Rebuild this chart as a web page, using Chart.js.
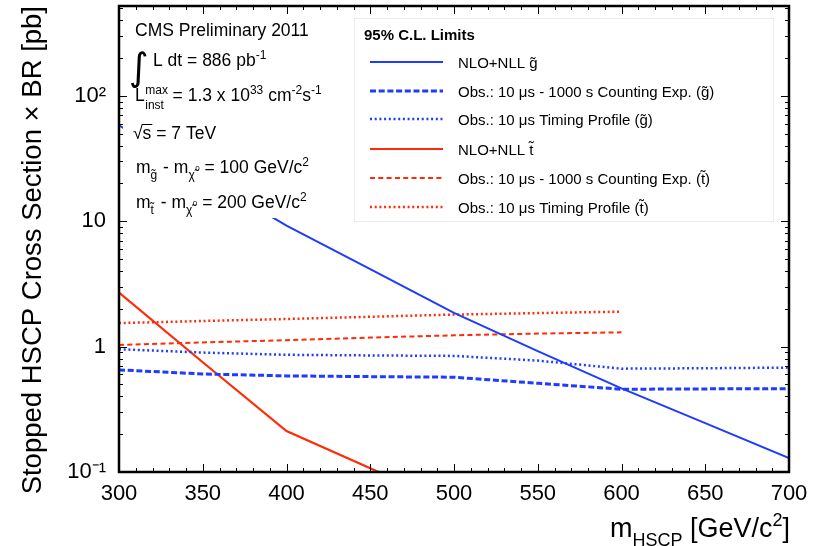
<!DOCTYPE html>
<html>
<head>
<meta charset="utf-8">
<script src="https://cdn.jsdelivr.net/npm/chart.js@4.4.1/dist/chart.umd.min.js"></script>
<style>
  html, body { margin: 0; padding: 0; background: #fff; }
  #wrap { width: 820px; height: 546px; }
</style>
</head>
<body>
<div id="wrap"><canvas id="chart" width="820" height="546"></canvas></div>
<script>
'use strict';

// masses [GeV/c^2]
const gluinoMass = [300, 350, 400, 450, 500, 550, 600, 650, 700];
const stopMass = [300, 350, 400, 450, 500, 550, 600];

// cross section x BR [pb]
const gluinoTheory = [58, 22.9, 9.2, 4.15, 1.86, 0.92, 0.465, 0.245, 0.129];
const gluinoCounting = [0.652, 0.605, 0.584, 0.576, 0.570, 0.51, 0.457, 0.46, 0.462];
const gluinoTiming = [0.953, 0.896, 0.86, 0.85, 0.843, 0.773, 0.667, 0.672, 0.68];
const stopTheory = [2.7, 0.75, 0.212, 0.107, 0.054];
const stopCounting = [1.03, 1.08, 1.125, 1.18, 1.23, 1.27, 1.30];
const stopTiming = [1.54, 1.60, 1.66, 1.73, 1.80, 1.85, 1.90];

const xTickValues = [300, 350, 400, 450, 500, 550, 600, 650, 700];
const yTickValues = [0.1, 1, 10, 100];
const yTickLabels = ['10\u207B\u00B9', '1', '10', '10\u00B2'];

const legendLabels = [
    'NLO+NLL g\u0303',
    'Obs.: 10 \u03BCs - 1000 s Counting Exp. (g\u0303)',
    'Obs.: 10 \u03BCs Timing Profile (g\u0303)',
    'NLO+NLL t\u0303',
    'Obs.: 10 \u03BCs - 1000 s Counting Exp. (t\u0303)',
    'Obs.: 10 \u03BCs Timing Profile (t\u0303)',
];

const BLUE = '#1e3cff';
const RED = '#ff2a08';
const FONT = '"Liberation Sans", Arial, Helvetica, sans-serif';

let pts = (xs, ys) => ys.map((v, i) => ({x: xs[i], y: v}));

function line(ctx, x1, y1, x2, y2) {
    ctx.beginPath();
    ctx.moveTo(x1, y1);
    ctx.lineTo(x2, y2);
    ctx.stroke();
}

// draws a run of [text, mode, dx] pieces, mode: n / sup / sub / tiny
function rich(ctx, x, y, parts, size) {
    let small = Math.round(size * 0.68);
    for (let [txt, mode, dx] of parts) {
        if (dx) x += dx;
        if (mode === 'sup') {
            ctx.font = small + 'px ' + FONT;
            ctx.fillText(txt, x, y - size * 0.42);
        } else if (mode === 'sub') {
            ctx.font = small + 'px ' + FONT;
            ctx.fillText(txt, x, y + size * 0.32);
        } else if (mode === 'tiny') {
            ctx.font = Math.round(size * 0.45) + 'px ' + FONT;
            ctx.fillText(txt, x, y - 2);
        } else {
            ctx.font = size + 'px ' + FONT;
            ctx.fillText(txt, x, y);
        }
        x += ctx.measureText(txt).width;
    }
    return x;
}

const textBoxes = {
    id: 'textBoxes',
    afterDatasetsDraw(chart) {
        let ctx = chart.ctx;
        ctx.save();
        ctx.fillStyle = '#fff';
        ctx.fillRect(123, 9, 200, 209);

        ctx.fillStyle = '#000';
        ctx.textBaseline = 'alphabetic';
        ctx.textAlign = 'left';
        let fs = 17.5;
        rich(ctx, 135, 36, [['CMS Preliminary 2011', 'n']], fs);

        ctx.font = '38px "DejaVu Sans", ' + FONT;
        ctx.fillText('\u222B', 129, 80);
        rich(ctx, 153, 66, [['L dt = 886 pb', 'n'], ['-1', 'sup']], fs);

        let x = rich(ctx, 135, 101, [['L', 'n']], fs);
        ctx.font = '12px ' + FONT;
        ctx.fillText('max', x + 0.5, 94);
        ctx.fillText('inst', x + 0.5, 109);
        rich(ctx, x + 23, 101, [[' = 1.3 x 10', 'n'], ['33', 'sup'], [' cm', 'n'], ['-2', 'sup'], ['s', 'n'], ['-1', 'sup']], fs);

        x = rich(ctx, 133, 139, [['\u221A', 'n']], fs);
        let xs = rich(ctx, x, 139, [['s', 'n']], fs);
        ctx.strokeStyle = '#000';
        ctx.lineWidth = 1;
        line(ctx, x - 1, 124.5, xs + 1, 124.5);
        rich(ctx, xs, 139, [[' = 7 TeV', 'n']], fs);

        rich(ctx, 136, 173, [['m', 'n'], ['g\u0303', 'sub'], [' - m', 'n', 1], ['\u03C7\u0303', 'sub'], ['0', 'tiny', 0.5], [' = 100 GeV/c', 'n'], ['2', 'sup']], fs);
        rich(ctx, 136, 208, [['m', 'n'], ['t\u0303', 'sub'], [' - m', 'n', 2], ['\u03C7\u0303', 'sub'], ['0', 'tiny', 0.5], [' = 200 GeV/c', 'n'], ['2', 'sup']], fs);

        // legend
        ctx.fillStyle = '#fff';
        ctx.fillRect(354, 18, 419, 203);
        ctx.strokeStyle = '#ececec';
        ctx.lineWidth = 1;
        ctx.strokeRect(354.5, 18.5, 419, 203);
        ctx.fillStyle = '#000';
        ctx.font = 'bold 15px ' + FONT;
        ctx.fillText('95% C.L. Limits', 364, 40);
        let rows = [62, 91, 119, 149, 178, 207];
        chart.data.datasets.forEach((ds, i) => {
            let yy = rows[i];
            ctx.save();
            ctx.strokeStyle = ds.borderColor;
            ctx.lineWidth = ds.borderWidth;
            ctx.setLineDash(ds.borderDash || []);
            line(ctx, 370, yy, 443, yy);
            ctx.restore();
            ctx.font = '15px ' + FONT;
            ctx.fillText(ds.label, 458, yy + 5.5);
        });
        ctx.restore();
    }
};

const frameTicks = {
    id: 'frameTicks',
    afterDraw(chart) {
        let {ctx, chartArea: a, scales: {x, y}} = chart;
        ctx.save();
        ctx.strokeStyle = '#000';
        ctx.lineWidth = 1;
        for (let v = x.min; v <= x.max; v += 10) {
            let px = Math.round(x.getPixelForValue(v)) + 0.5;
            let len = v % 50 === 0 ? 8 : 4;
            line(ctx, px, a.bottom, px, a.bottom - len);
            line(ctx, px, a.top, px, a.top + len);
        }
        for (let d of yTickValues) {
            for (let k = 1; k <= 9; k++) {
                let v = k * d;
                if (v > y.max) break;
                let py = Math.round(y.getPixelForValue(v)) + 0.5;
                let len = k === 1 ? 8 : 4;
                line(ctx, a.left, py, a.left + len, py);
                line(ctx, a.right, py, a.right - len, py);
            }
        }
        ctx.lineWidth = 2.5;
        ctx.strokeRect(a.left, a.top, a.right - a.left, a.bottom - a.top);

        // x axis title
        ctx.fillStyle = '#000';
        ctx.textBaseline = 'alphabetic';
        let parts = [['m', 'n'], ['HSCP', 'sub'], [' [GeV/c', 'n'], ['2', 'sup'], [']', 'n']];
        let w = rich(ctx, 0, -100, parts, 27);
        rich(ctx, 790 - w, 537, parts, 27);
        ctx.restore();
    }
};

new Chart(document.getElementById('chart'), {
    type: 'line',
    data: {
        datasets: [
            {label: legendLabels[0], data: pts(gluinoMass, gluinoTheory), borderColor: BLUE, borderWidth: 2},
            {label: legendLabels[1], data: pts(gluinoMass, gluinoCounting), borderColor: BLUE, borderWidth: 3, borderDash: [6, 2.7]},
            {label: legendLabels[2], data: pts(gluinoMass, gluinoTiming), borderColor: BLUE, borderWidth: 2.5, borderDash: [2, 2.7]},
            {label: legendLabels[3], data: pts(stopMass, stopTheory), borderColor: RED, borderWidth: 2.2},
            {label: legendLabels[4], data: pts(stopMass, stopCounting), borderColor: RED, borderWidth: 2, borderDash: [5, 3.3]},
            {label: legendLabels[5], data: pts(stopMass, stopTiming), borderColor: RED, borderWidth: 2.5, borderDash: [2, 2.7]},
        ]
    },
    options: {
        responsive: false,
        animation: false,
        devicePixelRatio: 1,
        elements: {point: {radius: 0}, line: {tension: 0, fill: false}},
        layout: {padding: {top: 6, right: 31, left: 0, bottom: 0}},
        plugins: {legend: {display: false}, tooltip: {enabled: false}},
        scales: {
            x: {
                type: 'linear',
                min: 300,
                max: 700,
                afterBuildTicks: (s) => { s.ticks = xTickValues.map((v) => ({value: v})); },
                afterFit: (s) => { s.height = 74; s.paddingLeft = 0; s.paddingRight = 0; },
                grid: {display: false, drawTicks: false},
                border: {display: false},
                ticks: {color: '#000', padding: 9, font: {family: FONT, size: 22}, maxRotation: 0},
            },
            y: {
                type: 'logarithmic',
                min: 0.1,
                max: 520,
                afterBuildTicks: (s) => { s.ticks = yTickValues.map((v) => ({value: v})); },
                afterFit: (s) => { s.width = 119; s.paddingTop = 0; s.paddingBottom = 0; },
                grid: {display: false, drawTicks: false},
                border: {display: false},
                ticks: {
                    color: '#000',
                    padding: 13,
                    font: {family: FONT, size: 22},
                    autoSkip: false,
                    callback: (v) => {
                        let i = yTickValues.findIndex((t) => Math.abs(t - v) < t * 1e-6);
                        return i >= 0 ? yTickLabels[i] : '';
                    }
                },
                title: {
                    display: true,
                    text: 'Stopped HSCP Cross Section \u00D7 BR [pb]',
                    align: 'end',
                    color: '#000',
                    font: {family: FONT, size: 27.5},
                    padding: {top: 17, bottom: 0},
                },
            },
        },
    },
    plugins: [textBoxes, frameTicks],
});
</script>
</body>
</html>
